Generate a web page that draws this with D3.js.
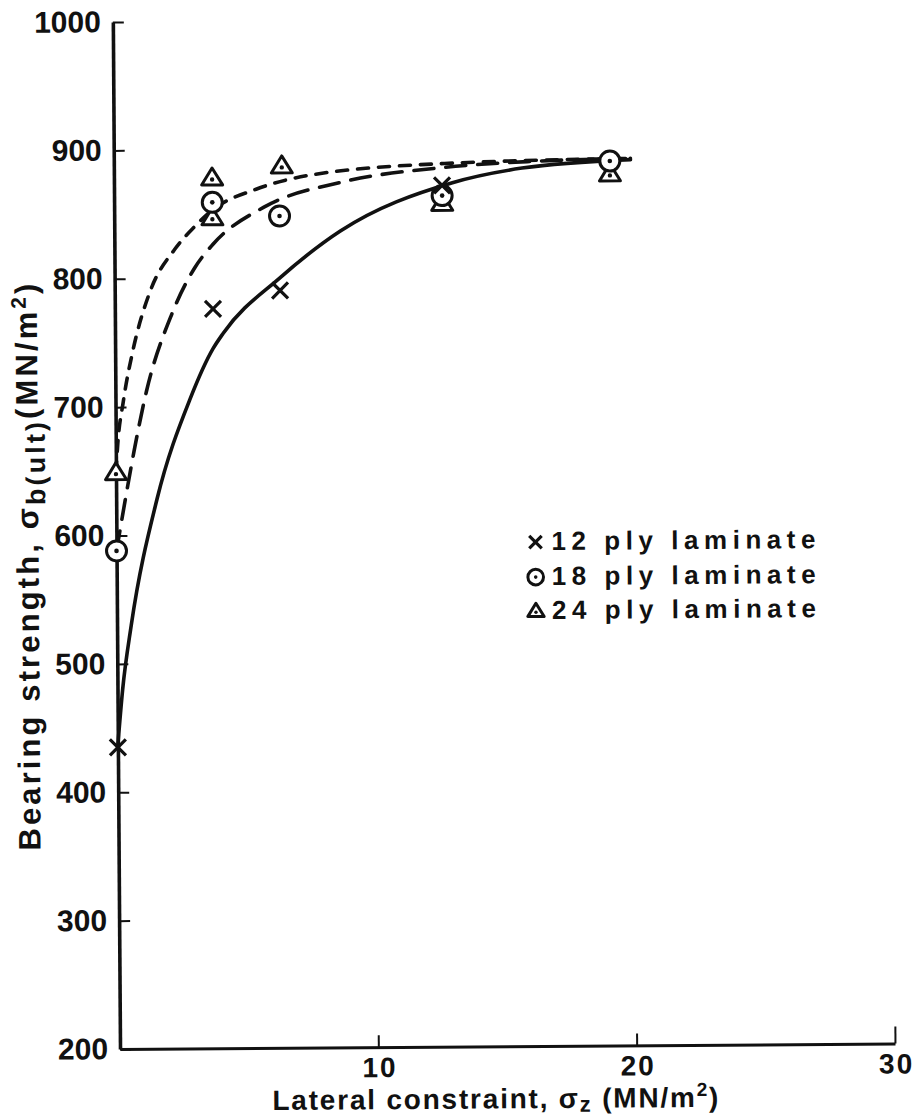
<!DOCTYPE html>
<html><head><meta charset="utf-8">
<script src="https://cdn.jsdelivr.net/npm/d3@7"></script>
<style>
html,body{margin:0;padding:0;background:#fff;}
svg{display:block;}
text{font-family:"Liberation Sans",Arial,sans-serif;font-weight:bold;fill:#111;}
</style></head><body>
<svg id="chart" width="916" height="1120"></svg>
<script>
// Ultimate bearing strength against lateral constraint for three laminate thicknesses

const laminates = ["12 ply laminate", "18 ply laminate", "24 ply laminate"];
const markerKinds = ["cross", "circle", "triangle"];

// test points: lateral constraint σz (MN/m²) and bearing strength σb(ult) (MN/m²)
const constraint12 = [0, 3.8, 6.4, 12.7];
const strength12   = [435, 776, 790, 871];
const constraint18 = [0, 3.8, 6.4, 12.7, 19.2];
const strength18   = [588, 859, 848, 863, 889];
const constraint24 = [0, 3.8, 3.8, 6.5, 12.7, 19.2];
const strength24   = [649, 878, 847, 887, 857, 879];

// faired curves through each set
const curveX12 = [0, 0.2, 0.55, 1.58, 2.89, 3.79, 4.19, 6.41, 8.75, 13.1, 15.8, 20];
const curveY12 = [437, 480, 530, 628, 706, 745, 757, 800, 836, 873, 884, 890];
const curveX18 = [0, 0.3, 0.7, 1.2, 2.2, 3.1, 3.8, 5.8, 8.8, 12.8, 16, 20];
const curveY18 = [588, 622, 665, 712, 772, 808, 826, 855, 874, 885, 889, 891];
const curveX24 = [0, 0.08, 0.3, 0.7, 1.37, 2.35, 3.1, 3.8, 5.5, 7.7, 12.8, 20];
const curveY24 = [649, 672, 704, 745, 790, 823, 840, 853, 869, 880, 888, 891];

const xTicks = [10, 20, 30];
const yTicks = [200, 300, 400, 500, 600, 700, 800, 900, 1000];

const series = [
  {name: laminates[0], kind: markerKinds[0], px: constraint12, py: strength12, cx: curveX12, cy: curveY12, dash: null},
  {name: laminates[1], kind: markerKinds[1], px: constraint18, py: strength18, cx: curveX18, cy: curveY18, dash: "20,12"},
  {name: laminates[2], kind: markerKinds[2], px: constraint24, py: strength24, cx: curveX24, cy: curveY24, dash: "11,10"}
];

const ox = 120, oy = 1049;
const x = d3.scaleLinear().domain([0, 30]).range([ox, 895]);
const y = d3.scaleLinear().domain([200, 1000]).range([oy, 22]);

const svg = d3.select("#chart");
const g = svg.append("g").attr("transform", `rotate(-0.4, ${ox}, ${oy})`);

// y axis
const yAxis = g.append("g").attr("transform", `translate(${ox},0)`)
  .call(d3.axisLeft(y).tickValues(yTicks).tickFormat(d3.format("d"))
        .tickSizeInner(-11).tickSizeOuter(0).tickPadding(12));
yAxis.select(".domain").attr("stroke", "#111").attr("stroke-width", 3.6);
yAxis.selectAll(".tick line").attr("stroke", "#111").attr("stroke-width", 2);
yAxis.selectAll(".tick text").attr("font-size", 30).attr("fill", "#111")
  .attr("font-family", "Liberation Sans, Arial, sans-serif").attr("font-weight", "bold");

// x axis
const xAxis = g.append("g").attr("transform", `translate(0,${oy})`)
  .call(d3.axisBottom(x).tickValues(xTicks).tickFormat(d3.format("d"))
        .tickSizeInner(-12).tickSizeOuter(0).tickPadding(10));
xAxis.select(".domain").attr("stroke", "#111").attr("stroke-width", 3);
xAxis.selectAll(".tick line").attr("stroke", "#111").attr("stroke-width", 2)
  .attr("y2", d => d === 30 ? -17 : -12);
xAxis.selectAll(".tick text").attr("font-size", 28).attr("fill", "#111")
  .attr("font-family", "Liberation Sans, Arial, sans-serif").attr("font-weight", "bold")
  .attr("letter-spacing", 2).attr("dx", d => d === 30 ? 1 : 1);

// curves
const line = d3.line().x(d => x(d[0])).y(d => y(d[1])).curve(d3.curveMonotoneX);
g.append("g").selectAll("path.curve").data(series).join("path")
  .attr("class", "curve")
  .attr("d", s => line(s.cx.map((v, i) => [v, s.cy[i]])))
  .attr("fill", "none").attr("stroke", "#111").attr("stroke-width", 3.6)
  .attr("stroke-linecap", "round")
  .attr("stroke-dasharray", s => s.dash);

// marker drawing
function drawMarker(sel, kind, k) {
  if (kind === "cross") {
    sel.append("path").attr("d", `M${-8*k},${-8*k}L${8*k},${8*k}M${-8*k},${8*k}L${8*k},${-8*k}`)
      .attr("stroke", "#111").attr("stroke-width", 3.2).attr("fill", "none");
  } else if (kind === "circle") {
    sel.append("circle").attr("r", 10*k).attr("fill", "#fff")
      .attr("stroke", "#111").attr("stroke-width", 3);
    sel.append("circle").attr("r", 2.3*k).attr("fill", "#111");
  } else {
    sel.append("path").attr("d", `M0,${-10*k}L${10.5*k},${7*k}L${-10.5*k},${7*k}Z`)
      .attr("fill", "#fff").attr("stroke", "#111").attr("stroke-width", 3)
      .attr("stroke-linejoin", "round");
    sel.append("circle").attr("cy", 1.5*k).attr("r", 2.2*k).attr("fill", "#111");
  }
}

series.slice().reverse().forEach(s => {
  const pts = s.px.map((v, i) => [v, s.py[i]]);
  g.append("g").selectAll("g").data(pts).join("g")
    .attr("transform", d => `translate(${x(d[0])},${y(d[1])})`)
    .each(function() { drawMarker(d3.select(this), s.kind, 1); });
});

// legend
const legend = g.append("g").attr("transform", "translate(539,0)");
const rowBase = [553, 588, 622];
series.forEach((s, i) => {
  const row = legend.append("g").attr("transform", `translate(0,${rowBase[i]})`);
  const m = row.append("g").attr("transform", "translate(0,-8)");
  drawMarker(m, s.kind, 0.78);
  row.append("text").attr("x", 16).attr("y", 0).attr("font-size", 26)
    .attr("textLength", 264).attr("lengthAdjust", "spacing").text(s.name);
});

// axis titles
const xt = g.append("text").attr("x", 272).attr("y", 1111).attr("font-size", 28)
  .attr("textLength", 446).attr("lengthAdjust", "spacing");
xt.append("tspan").text("Lateral constraint, σ");
xt.append("tspan").attr("dy", 4).attr("font-size", 22).text("z");
xt.append("tspan").attr("dy", -4).text(" (MN/m");
xt.append("tspan").attr("dy", -11).attr("font-size", 19).text("2");
xt.append("tspan").attr("dy", 11).text(")");

const yt = g.append("text").attr("transform", "translate(42,850) rotate(-90)")
  .attr("font-size", 31).attr("textLength", 567).attr("lengthAdjust", "spacing");
yt.append("tspan").text("Bearing strength, σ");
yt.append("tspan").attr("dy", 7).attr("font-size", 27).text("b(ult)");
yt.append("tspan").attr("dy", -7).text("(MN/m");
yt.append("tspan").attr("dy", -11).attr("font-size", 21).text("2");
yt.append("tspan").attr("dy", 11).text(")");
</script>
</body></html>
